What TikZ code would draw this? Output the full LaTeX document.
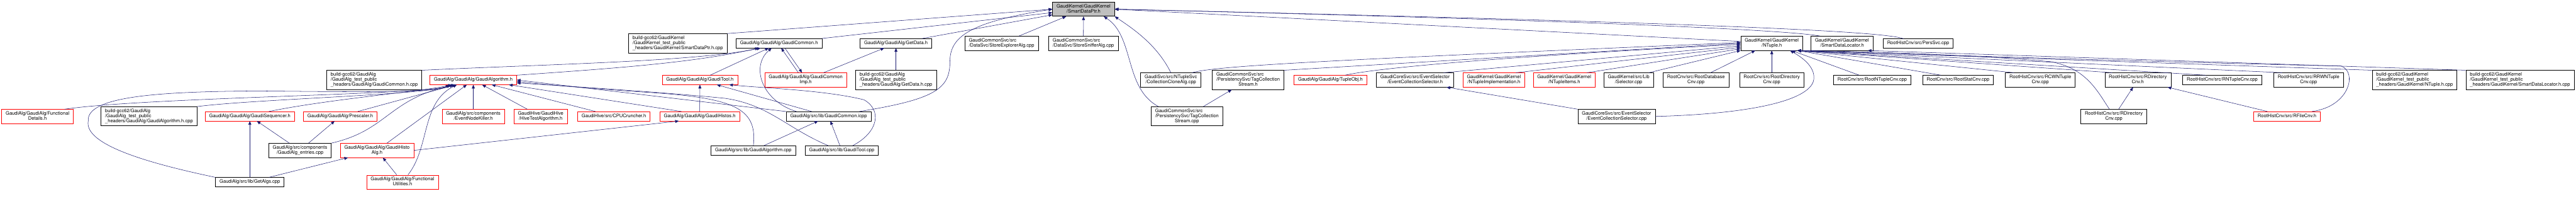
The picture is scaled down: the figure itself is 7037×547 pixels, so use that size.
\documentclass[tikz,border=0pt]{standalone}
\usepackage{fontspec}
\setmainfont{TeX Gyre Heros}
\usetikzlibrary{arrows.meta}
\definecolor{edgeblue}{HTML}{191970}
\definecolor{rootgrey}{HTML}{BFBFBF}
% node labels: all lines left, the last one centred
\newcommand{\fone}[1]{\begin{tabular}{@{}c@{}}#1\end{tabular}}
\newcommand{\ftwo}[2]{\begin{tabular}{@{}l@{}}#1\\\multicolumn{1}{@{}c@{}}{#2}\end{tabular}}
\newcommand{\fthree}[3]{\begin{tabular}{@{}l@{}}#1\\#2\\\multicolumn{1}{@{}c@{}}{#3}\end{tabular}}
\begin{document}
\begin{tikzpicture}[x=1pt, y=-1pt, >={Triangle[length=10pt,width=8pt]},
  font=\fontsize{13}{13.7}\selectfont,
  fbox/.style={draw=black, line width=1pt, inner xsep=11pt, inner ysep=0pt, minimum height=25pt},
  fred/.style={fbox, draw=red},
  froot/.style={fbox, fill=rootgrey},
  h2/.style={minimum height=38.5pt},
  h3/.style={minimum height=52pt},
  incl/.style={draw=edgeblue, line width=0.9pt, ->}]
\useasboundingbox (0,0) rectangle (7037,547);

% SmartDataPtr.h
\node[froot,h2] (root) at (2960,25) {\ftwo{GaudiKernel/GaudiKernel}{/SmartDataPtr.h}};

% rang 1
\node[fbox,h3] (smartptrcpp) at (1851.5,118) {\fthree{build-gcc62/GaudiKernel}{/GaudiKernel\_test\_public}{\_headers/GaudiKernel/SmartDataPtr.h.cpp}};
\node[fbox] (gcommon) at (2128,118) {\fone{GaudiAlg/GaudiAlg/GaudiCommon.h}};
\node[fbox] (getdata) at (2447.5,118) {\fone{GaudiAlg/GaudiAlg/GetData.h}};
\node[fbox,h2] (explorer) at (2736,118) {\ftwo{GaudiCommonSvc/src}{/DataSvc/StoreExplorerAlg.cpp}};
\node[fbox,h2] (sniffer) at (2959.5,118) {\ftwo{GaudiCommonSvc/src}{/DataSvc/StoreSnifferAlg.cpp}};
\node[fbox,h2] (ntuple) at (4840,118) {\ftwo{GaudiKernel/GaudiKernel}{/NTuple.h}};
\node[fbox,h2] (sdlocator) at (5032,118) {\ftwo{GaudiKernel/GaudiKernel}{/SmartDataLocator.h}};
\node[fbox] (perssvc) at (5240,118.5) {\fone{RootHistCnv/src/PersSvc.cpp}};

% rang 2
\node[fbox,h3] (commoncpp) at (1022.5,218) {\fthree{build-gcc62/GaudiAlg}{/GaudiAlg\_test\_public}{\_headers/GaudiAlg/GaudiCommon.h.cpp}};
\node[fred] (galgh) at (1293,218) {\fone{GaudiAlg/GaudiAlg/GaudiAlgorithm.h}};
\node[fred] (gtool) at (1912,218) {\fone{GaudiAlg/GaudiAlg/GaudiTool.h}};
\node[fred,h2] (commonimp) at (2201,218) {\ftwo{GaudiAlg/GaudiAlg/GaudiCommon}{Imp.h}};
\node[fbox,h3] (getdatacpp) at (2447.5,218) {\fthree{build-gcc62/GaudiAlg}{/GaudiAlg\_test\_public}{\_headers/GaudiAlg/GetData.h.cpp}};
\node[fbox,h2] (clone) at (3198.5,218) {\ftwo{GaudiSvc/src/NTupleSvc}{/CollectionCloneAlg.cpp}};
\node[fbox,h3] (tagstreamh) at (3409.5,218) {\fthree{GaudiCommonSvc/src}{/PersistencySvc/TagCollection}{Stream.h}};
\node[fred] (tupleobj) at (3634.5,218) {\fone{GaudiAlg/GaudiAlg/TupleObj.h}};
\node[fbox,h2] (evcolselh) at (3865.5,218) {\ftwo{GaudiCoreSvc/src/EventSelector}{/EventCollectionSelector.h}};
\node[fred,h2] (ntupleimpl) at (4081,218) {\ftwo{GaudiKernel/GaudiKernel}{/NTupleImplementation.h}};
\node[fred,h2] (ntupleitems) at (4273,218) {\ftwo{GaudiKernel/GaudiKernel}{/NTupleItems.h}};
\node[fbox,h2] (selector) at (4449,218) {\ftwo{GaudiKernel/src/Lib}{/Selector.cpp}};
\node[fbox,h2] (rootdb) at (4633,218) {\ftwo{RootCnv/src/RootDatabase}{Cnv.cpp}};
\node[fbox,h2] (rootdir) at (4840,218) {\ftwo{RootCnv/src/RootDirectory}{Cnv.cpp}};
\node[fbox] (rootntuple) at (5114.5,218) {\fone{RootCnv/src/RootNTupleCnv.cpp}};
\node[fbox] (rootstat) at (5349,218) {\fone{RootCnv/src/RootStatCnv.cpp}};
\node[fbox,h2] (rcwn) at (5573.5,218) {\ftwo{RootHistCnv/src/RCWNTuple}{Cnv.cpp}};
\node[fbox,h2] (rdirh) at (5840,218) {\ftwo{RootHistCnv/src/RDirectory}{Cnv.h}};
\node[fbox] (rntuple) at (6070.5,218) {\fone{RootHistCnv/src/RNTupleCnv.cpp}};
\node[fbox,h2] (rrwn) at (6306.5,218) {\ftwo{RootHistCnv/src/RRWNTuple}{Cnv.cpp}};
\node[fbox,h3] (ntuplecpp) at (6596,218) {\fthree{build-gcc62/GaudiKernel}{/GaudiKernel\_test\_public}{\_headers/GaudiKernel/NTuple.h.cpp}};
\node[fbox,h3] (sdloccpp) at (6884,218) {\fthree{build-gcc62/GaudiKernel}{/GaudiKernel\_test\_public}{\_headers/GaudiKernel/SmartDataLocator.h.cpp}};

% rang 3
\node[fred,h2] (fdetails) at (102.5,317.5) {\ftwo{GaudiAlg/GaudiAlg/Functional}{Details.h}};
\node[fbox,h3] (galgcpp) at (407,317) {\fthree{build-gcc62/GaudiAlg}{/GaudiAlg\_test\_public}{\_headers/GaudiAlg/GaudiAlgorithm.h.cpp}};
\node[fred] (gseq) at (682.5,317) {\fone{GaudiAlg/GaudiAlg/GaudiSequencer.h}};
\node[fred] (prescaler) at (929.5,317) {\fone{GaudiAlg/GaudiAlg/Prescaler.h}};
\node[fred,h2] (nodekiller) at (1293,317.5) {\ftwo{GaudiAlg/src/components}{/EventNodeKiller.h}};
\node[fred,h2] (hivetest) at (1477,317.5) {\ftwo{GaudiHive/GaudiHive}{/HiveTestAlgorithm.h}};
\node[fred] (cpucruncher) at (1677,317) {\fone{GaudiHive/src/CPUCruncher.h}};
\node[fred] (ghistos) at (1911.5,317) {\fone{GaudiAlg/GaudiAlg/GaudiHistos.h}};
\node[fbox] (commonicpp) at (2263.5,317) {\fone{GaudiAlg/src/lib/GaudiCommon.icpp}};
\node[fbox,h3] (tagstreamcpp) at (3242.5,317) {\fthree{GaudiCommonSvc/src}{/PersistencySvc/TagCollection}{Stream.cpp}};
\node[fbox,h2] (evcolselcpp) at (4416,317.5) {\ftwo{GaudiCoreSvc/src/EventSelector}{/EventCollectionSelector.cpp}};
\node[fbox,h2] (rdircpp) at (5774.5,317.5) {\ftwo{RootHistCnv/src/RDirectory}{Cnv.cpp}};
\node[fred] (rfilecnv) at (6247.5,317) {\fone{RootHistCnv/src/RFileCnv.h}};

% rang 4
\node[fbox,h2] (entries) at (819.5,410) {\ftwo{GaudiAlg/src/components}{/GaudiAlg\_entries.cpp}};
\node[fred,h2] (histoalg) at (1030,410) {\ftwo{GaudiAlg/GaudiAlg/GaudiHisto}{Alg.h}};
\node[fbox] (galgcppsrc) at (2058,410) {\fone{GaudiAlg/src/lib/GaudiAlgorithm.cpp}};
\node[fbox] (gtoolcpp) at (2299.5,410) {\fone{GaudiAlg/src/lib/GaudiTool.cpp}};

% rang 5
\node[fbox] (getalgs) at (682.5,496.5) {\fone{GaudiAlg/src/lib/GetAlgs.cpp}};
\node[fred,h2] (futil) at (1099.5,496.5) {\ftwo{GaudiAlg/GaudiAlg/Functional}{Utilities.h}};

% cap a SmartDataPtr.h
\draw[incl] (smartptrcpp.north east) -- (root.west);
\draw[incl] (gcommon) -- (root);
\draw[incl] (getdata) -- (root);
\draw[incl] ([xshift=84pt]commonicpp.north) .. controls (2560,270) and (2595,240) .. (2595,167)
    .. controls (2595,100) and (2650,60) .. (root.west);
\draw[incl] (explorer) -- (root);
\draw[incl] (sniffer) -- (root);
\draw[incl] (clone.north) .. controls (3160,120) and (3090,75) .. (root.south east);
\draw[incl] ([xshift=-78pt]tagstreamcpp.north) .. controls (3070,240) and (3100,100) .. ([xshift=55pt]root.south);
\draw[incl] ([yshift=5pt]ntuple.west) -- (root.east);
\draw[incl] ([xshift=25pt]sdlocator.north west) .. controls (4900,85) and (4500,60) .. (root.east);
\draw[incl] ([xshift=-40pt]perssvc.north) .. controls (5150,88) and (4800,65) .. (root.east);

% cap a GaudiCommon.h
\draw[incl] (commoncpp.north east) .. controls (1500,175) and (1900,168) .. ([xshift=-50pt]gcommon.south);
\draw[incl] (galgh.north east) .. controls (1700,185) and (1900,170) .. ([xshift=-55pt]gcommon.south);
\draw[incl] (gtool) -- (gcommon);
\draw[incl] ([xshift=-20pt]commonimp.north) -- ([xshift=6pt]gcommon.south);
\draw[incl] ([xshift=16pt]gcommon.south) -- ([xshift=-10pt]commonimp.north);
\draw[incl] ([xshift=-88pt]commonicpp.north) .. controls (2080,275) and (2050,180) .. ([xshift=-20pt]gcommon.south);

% cap a GetData.h
\draw[incl] (getdatacpp) -- (getdata);
\draw[incl] (commonimp) -- (getdata);

% cap a GaudiAlgorithm.h
\draw[incl] ([xshift=74pt]fdetails.north) .. controls (400,265) and (1180,258) .. ([xshift=-65pt]galgh.south);
\draw[incl] (galgcpp.north east) .. controls (700,270) and (1180,258) .. ([xshift=-62pt]galgh.south);
\draw[incl] ([xshift=52pt]gseq.north) .. controls (900,270) and (1150,250) .. ([xshift=-58pt]galgh.south);
\draw[incl] (prescaler) -- (galgh);
\draw[incl] (entries.north east) .. controls (1060,355) and (1060,270) .. ([xshift=-50pt]galgh.south);
\draw[incl] (histoalg) -- (galgh);
\draw[incl] ([xshift=15pt]futil.north) .. controls (1175,400) and (1150,280) .. ([xshift=-45pt]galgh.south);
\draw[incl] (getalgs.north west) .. controls (380,440) and (230,390) .. (241,330)
    .. controls (235,260) and (450,250) .. (700,248)
    .. controls (950,250) and (1180,255) .. ([xshift=-55pt]galgh.south);
\draw[incl] (nodekiller) -- (galgh);
\draw[incl] (hivetest) -- (galgh);
\draw[incl] (cpucruncher) -- (galgh);
\draw[incl] ([xshift=-50pt]ghistos.north) -- ([xshift=97pt]galgh.south);
\draw[incl] (commonicpp.north west) -- (galgh.east);
\draw[incl] (galgcppsrc.north) .. controls (2070,290) and (2000,265) .. (1740,250)
    .. controls (1600,240) and (1480,230) .. ([yshift=-4pt]galgh.east);
\draw[incl] ([xshift=-37pt]gtoolcpp.north) .. controls (2150,350) and (2100,285) .. (1980,268)
    .. controls (1800,250) and (1500,232) .. ([yshift=-8pt]galgh.east);

% cap a GaudiTool.h
\draw[incl] (ghistos) -- (gtool);
\draw[incl] (commonicpp) -- (gtool);
\draw[incl] ([xshift=30pt]gtoolcpp.north) .. controls (2400,360) and (2410,300) .. (2360,272)
    .. controls (2250,245) and (2080,240) .. ([xshift=80pt]gtool.south);

% la resta de GaudiAlg
\draw[incl] (histoalg.east) -- ([xshift=-57pt]ghistos.south);
\draw[incl] (getalgs) -- (gseq);
\draw[incl] (entries) -- (gseq);
\draw[incl] (entries) -- (prescaler);
\draw[incl] (getalgs) -- (histoalg);
\draw[incl] (futil) -- (histoalg);
\draw[incl] (galgcppsrc) -- (commonicpp);
\draw[incl] (gtoolcpp) -- (commonicpp);

% cap a NTuple.h
\draw[incl] ([xshift=-25pt]clone.north east) .. controls (3320,180) and (3600,165) .. ([yshift=2pt]ntuple.west);
\draw[incl] (tagstreamh.north east) -- (ntuple.west);
\draw[incl] ([xshift=40pt]tupleobj.north) .. controls (3740,190) and (4000,160) .. ([yshift=-3pt]ntuple.west);
\draw[incl] ([xshift=78pt]evcolselh.north) -- ([yshift=-7pt]ntuple.west);
\draw[incl] ([xshift=60pt]ntupleimpl.north) -- ([yshift=-11pt]ntuple.west);
\draw[incl] ([xshift=62pt]ntupleitems.north) -- ([yshift=-15pt]ntuple.west);
\draw[incl] ([xshift=55pt]selector.north) -- (ntuple.south west);
\draw[incl] (rootdb) -- ([xshift=-45pt]ntuple.south);
\draw[incl] (rootdir) -- (ntuple);
\draw[incl] (rootntuple) -- (ntuple);
\draw[incl] (evcolselcpp.east) .. controls (4800,310) and (4950,270) .. (4955,215)
    .. controls (4958,180) and (4920,155) .. ([xshift=50pt]ntuple.south);
\draw[incl] ([xshift=-47pt]rootstat.north) -- ([xshift=-15pt]ntuple.south east);
\draw[incl] ([xshift=-72pt]rcwn.north) -- ([xshift=-15pt]ntuple.south east);
\draw[incl] ([xshift=-70pt]rdirh.north) -- ([xshift=-15pt]ntuple.south east);
\draw[incl] ([xshift=-45pt]rntuple.north) -- ([xshift=-15pt]ntuple.south east);
\draw[incl] ([xshift=-72pt]rrwn.north) -- ([xshift=-15pt]ntuple.south east);
\draw[incl] (ntuplecpp.north west) -- ([xshift=-15pt]ntuple.south east);
\draw[incl] ([xshift=-12pt]rdircpp.north) .. controls (5730,250) and (5700,185) .. (5600,168)
    .. controls (5400,150) and (5100,140) .. ([xshift=-15pt]ntuple.south east);
\draw[incl] ([xshift=68pt]rfilecnv.north) .. controls (6420,290) and (6440,195) .. (6395,180)
    .. controls (6000,172) and (5300,150) .. ([xshift=-15pt]ntuple.south east);

% la resta
\draw[incl] (tagstreamcpp) -- (tagstreamh);
\draw[incl] (evcolselcpp.north west) -- ([xshift=-20pt]evcolselh.south east);
\draw[incl] (sdloccpp.north west) -- ([xshift=-15pt]sdlocator.south east);
\draw[incl] (rdircpp) -- (rdirh);
\draw[incl] (rfilecnv) -- (rdirh);

\end{tikzpicture}
\end{document}
